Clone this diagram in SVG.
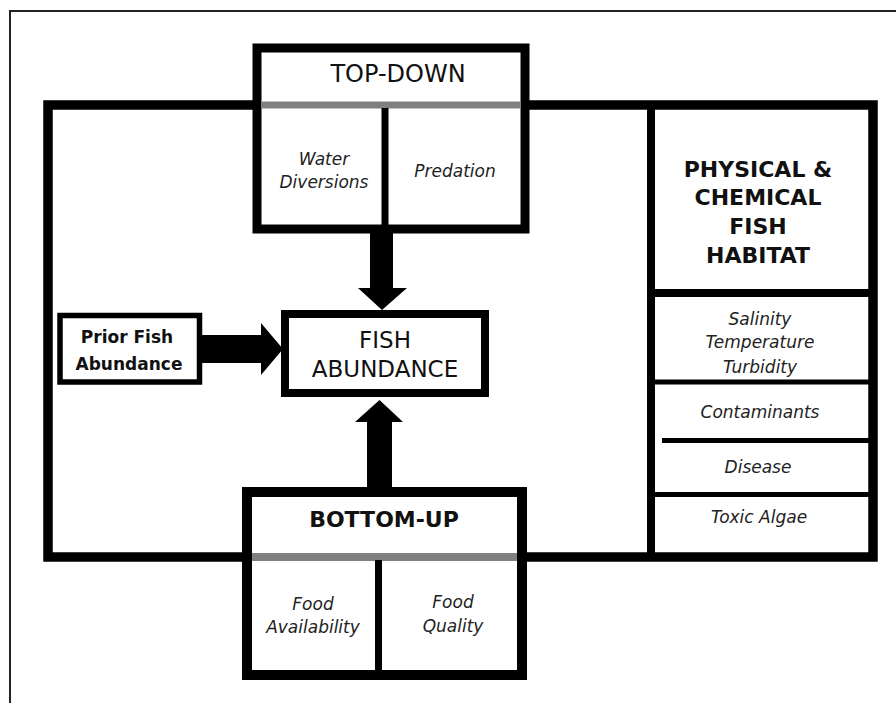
<svg xmlns="http://www.w3.org/2000/svg" width="896" height="703" viewBox="0 0 896 703">
<style>
.box{fill:#fff;stroke:#000}
.t{font-family:"DejaVu Sans",sans-serif;fill:#111;text-anchor:middle}
.b{font-weight:bold}
.i{font-style:italic;font-size:17px;fill:#222}
.gray{stroke:#808080}
.ln{stroke:#000}
.arr{fill:#000}
</style>
<rect width="896" height="703" fill="#fff"/>
<g id="frame">
<path d="M10 703 V11 H896" fill="none" stroke="#222" stroke-width="2"/>
</g>
<g id="main">
<rect x="48" y="105" width="825" height="452" fill="none" stroke="#000" stroke-width="9.5"/>
<line x1="651" y1="105" x2="651" y2="557" class="ln" stroke-width="8"/>
</g>
<g id="physical">
<line x1="651" y1="293" x2="873" y2="293" class="ln" stroke-width="8"/>
<line x1="655" y1="382" x2="870" y2="382" class="ln" stroke-width="5"/>
<line x1="662" y1="440.5" x2="870" y2="440.5" class="ln" stroke-width="5"/>
<line x1="655" y1="494.5" x2="870" y2="494.5" class="ln" stroke-width="5"/>
<text class="t b" font-size="22" x="758" y="177">PHYSICAL &amp;</text>
<text class="t b" font-size="22" x="758" y="205">CHEMICAL</text>
<text class="t b" font-size="22" x="758" y="234">FISH</text>
<text class="t b" font-size="22" x="758" y="263">HABITAT</text>
<text class="t i" x="760" y="325">Salinity</text>
<text class="t i" x="760" y="348">Temperature</text>
<text class="t i" x="760" y="373">Turbidity</text>
<text class="t i" x="760" y="418">Contaminants</text>
<text class="t i" x="758" y="473">Disease</text>
<text class="t i" x="759" y="523">Toxic Algae</text>
</g>
<g id="top-down">
<rect x="257" y="48" width="268" height="181" class="box" stroke-width="9"/>
<line x1="261.5" y1="105" x2="520.5" y2="105" class="gray" stroke-width="7"/>
<line x1="385" y1="108" x2="385" y2="225" class="ln" stroke-width="7"/>
<text class="t" font-size="24" x="398" y="82">TOP-DOWN</text>
<text class="t i" x="324" y="165">Water</text>
<text class="t i" x="324" y="188">Diversions</text>
<text class="t i" x="455" y="177">Predation</text>
</g>
<g id="bottom-up">
<rect x="247" y="492" width="275" height="183" class="box" stroke-width="10"/>
<line x1="252" y1="557" x2="517" y2="557" class="gray" stroke-width="8"/>
<line x1="378.5" y1="560" x2="378.5" y2="671" class="ln" stroke-width="7"/>
<text class="t b" font-size="22" x="384" y="527">BOTTOM-UP</text>
<text class="t i" x="313" y="610">Food</text>
<text class="t i" x="313" y="633">Availability</text>
<text class="t i" x="453" y="608">Food</text>
<text class="t i" x="453" y="632">Quality</text>
</g>
<g id="fish-abundance">
<rect x="285" y="314" width="200" height="79" class="box" stroke-width="8"/>
<text class="t" font-size="23" x="385" y="348">FISH</text>
<text class="t" font-size="23" x="385" y="377">ABUNDANCE</text>
</g>
<g id="prior">
<rect x="60" y="315.5" width="139.5" height="66.5" class="box" stroke-width="5.5"/>
<text class="t b" font-size="17" x="127" y="343">Prior Fish</text>
<text class="t b" font-size="17" x="129" y="370">Abundance</text>
</g>
<g id="connectors">
<polygon class="arr" points="370,233 393,233 393,288 407,288 382,310 358,288 370,288"/>
<polygon class="arr" points="367,488 392,488 392,422 403,422 379.5,400 355,422 367,422"/>
<polygon class="arr" points="202,335 261,335 261,323 283,349 261,375 261,363 202,363"/>
</g>
</svg>
